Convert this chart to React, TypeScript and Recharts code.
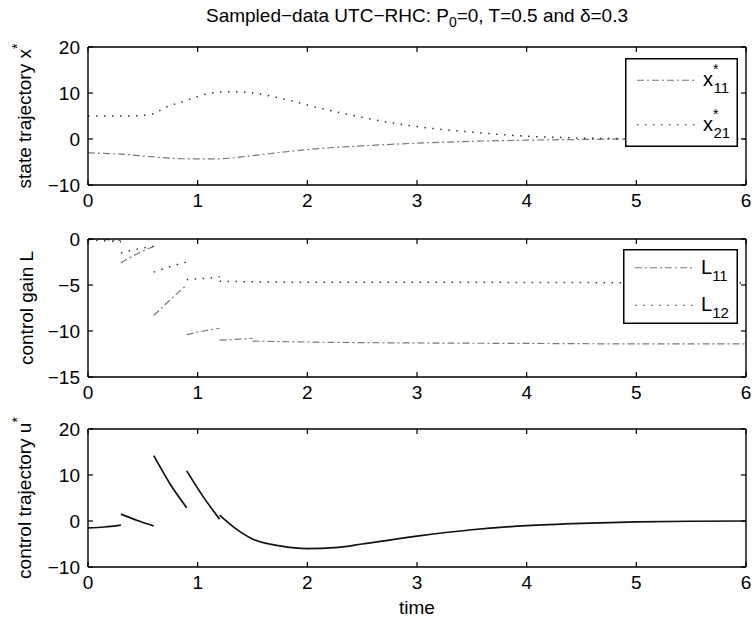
import { LineChart, Line, XAxis, YAxis, Legend } from "recharts";

const FONT = "'Liberation Sans', Arial, Helvetica, sans-serif";
const GRAY = "#7a7a7a";
const DARK = "#333";
const DASHDOT = "7 3 2 3";
const DOTS = "1.5 6.5";

const xTicks = [0, 1, 2, 3, 4, 5, 6];
const stateTicks = [-10, 0, 10, 20];
const gainTicks = [-15, -10, -5, 0];
const controlTicks = [-10, 0, 10, 20];

// state trajectory (t, value)
const x11 = [
  [0, -3.0], [0.3, -3.3], [0.6, -3.9], [0.9, -4.3], [1.2, -4.3], [1.5, -3.6],
  [1.8, -2.8], [2.1, -2.1], [2.5, -1.5], [3, -0.9], [3.5, -0.5], [4, -0.25],
  [4.5, -0.1], [5, 0], [5.5, 0], [6, 0],
];
const x21 = [
  [0, 5.0], [0.3, 5.0], [0.55, 5.2], [0.72, 7.0], [0.9, 8.4], [1.05, 9.6],
  [1.3, 10.3], [1.5, 10.0], [1.8, 8.6], [2.1, 6.8], [2.4, 5.2], [2.7, 3.8],
  [3.0, 2.7], [3.5, 1.5], [4.0, 0.6], [4.5, 0.2], [5, 0.05], [5.5, 0], [6, 0],
];

// control gain, one piece per sampling interval
const l11Pieces = [
  [[0, 0], [0.15, -0.05], [0.3, -0.2]],
  [[0.3, -2.6], [0.45, -1.6], [0.6, -0.8]],
  [[0.6, -8.3], [0.75, -6.6], [0.9, -5.0]],
  [[0.9, -10.4], [1.05, -10.0], [1.2, -9.7]],
  [[1.2, -11.0], [1.35, -10.9], [1.5, -10.8]],
  [[1.5, -11.1], [2, -11.2], [3, -11.3], [4, -11.35], [5, -11.4], [6, -11.4]],
];
const l12Pieces = [
  [[0, -0.1], [0.3, -0.3]],
  [[0.3, -1.5], [0.45, -1.1], [0.6, -0.8]],
  [[0.6, -3.6], [0.75, -3.0], [0.9, -2.5]],
  [[0.9, -4.4], [1.05, -4.3], [1.2, -4.1]],
  [[1.2, -4.6], [1.5, -4.65], [2, -4.7], [3, -4.7], [4, -4.72], [5, -4.75], [6, -4.75]],
];

// control trajectory
const uPieces = [
  [[0, -1.5], [0.15, -1.3], [0.3, -0.9]],
  [[0.3, 1.5], [0.45, 0.1], [0.6, -1.1]],
  [[0.6, 14.2], [0.75, 8.0], [0.9, 2.9]],
  [[0.9, 10.9], [1.05, 5.3], [1.2, 0.4]],
  [[1.2, 1.3], [1.35, -1.7], [1.5, -3.9], [1.75, -5.4], [2, -6.0], [2.25, -5.8],
   [2.5, -5.0], [3, -3.3], [3.5, -1.9], [4, -1.0], [4.5, -0.5], [5, -0.2], [5.5, -0.05], [6, 0]],
];

const stateLegend = [
  { base: "x", sup: "*", sub: "11", stroke: GRAY, dash: DASHDOT },
  { base: "x", sup: "*", sub: "21", stroke: DARK, dash: DOTS },
];
const gainLegend = [
  { base: "L", sup: "", sub: "11", stroke: GRAY, dash: DASHDOT },
  { base: "L", sup: "", sub: "12", stroke: DARK, dash: DOTS },
];

const pts = (rows: number[][]) => rows.map(([t, v]) => ({ t, v }));
const minus = (v: number) => String(v).replace("-", "\u2212");

const axisLine = { stroke: "#000", strokeWidth: 1.4 };
const tickLine = { stroke: "#000", strokeWidth: 1.2 };
const tickFont = { fontSize: 19, fill: "#000", fontFamily: FONT };
const blank = () => "";

function frame(yTicks: number[], yDomain: number[]) {
  return [
    <XAxis key="xb" xAxisId="b" type="number" dataKey="t" domain={[0, 6]} ticks={xTicks} allowDataOverflow
      height={30} axisLine={axisLine} tickLine={false} tick={tickFont} tickSize={6} tickMargin={3} />,
    <XAxis key="xbm" xAxisId="bm" type="number" dataKey="t" domain={[0, 6]} ticks={xTicks} allowDataOverflow
      mirror axisLine={false} tickLine={tickLine} tickSize={5} tickFormatter={blank} />,
    <XAxis key="xt" xAxisId="t" type="number" dataKey="t" domain={[0, 6]} ticks={xTicks} allowDataOverflow
      orientation="top" mirror axisLine={axisLine} tickLine={tickLine} tickSize={5} tickFormatter={blank} />,
    <YAxis key="yl" yAxisId="l" type="number" domain={yDomain} ticks={yTicks} allowDataOverflow
      width={88} axisLine={axisLine} tickLine={false} tick={tickFont} tickSize={6} tickMargin={2} tickFormatter={minus} />,
    <YAxis key="ylm" yAxisId="lm" type="number" domain={yDomain} ticks={yTicks} allowDataOverflow
      mirror axisLine={false} tickLine={tickLine} tickSize={5} tickFormatter={blank} />,
    <YAxis key="yr" yAxisId="r" type="number" domain={yDomain} ticks={yTicks} allowDataOverflow
      orientation="right" mirror axisLine={axisLine} tickLine={tickLine} tickSize={5} tickFormatter={blank} />,
  ];
}

type LegendItem = { base: string; sup: string; sub: string; stroke: string; dash: string };

function LegendBox({ items, width, height }: { items: LegendItem[]; width: number; height: number }) {
  const rowH = height / items.length;
  return (
    <svg width={width} height={height} style={{ display: "block" }}>
      <rect x={0.75} y={0.75} width={width - 1.5} height={height - 1.5} fill="#fff" stroke="#000" strokeWidth={1.5} />
      {items.map((it, i) => {
        const cy = rowH * (i + 0.5);
        return (
          <g key={i}>
            <line x1={12} x2={70} y1={cy} y2={cy} stroke={it.stroke} strokeWidth={1.2} strokeDasharray={it.dash} />
            <text x={78} y={cy + 6} fontSize={20} fontFamily={FONT} fill="#000">
              {it.base}
              {it.sup ? <tspan dy={-12} fontSize={14}>{it.sup}</tspan> : null}
              <tspan dx={it.sup ? -5 : 0} dy={it.sup ? 19 : 7} fontSize={15}>{it.sub}</tspan>
            </text>
          </g>
        );
      })}
    </svg>
  );
}

function legendAt(items: LegendItem[], left: number, top: number, width: number, height: number) {
  return (
    <Legend layout="vertical" align="center" verticalAlign="middle"
      wrapperStyle={{ left, top, width, height }}
      content={() => <LegendBox items={items} width={width} height={height} />} />
  );
}

const dashLine = (id: string, rows: number[][], stroke: string, dash: string, w = 1.2) => (
  <Line key={id} xAxisId="b" yAxisId="l" data={pts(rows)} dataKey="v" type="monotone" stroke={stroke}
    strokeWidth={w} strokeDasharray={dash} dot={false} activeDot={false} isAnimationActive={false} />
);

export default function App() {
  return (
    <div style={{ position: "absolute", left: 0, top: 0, width: 754, height: 620, background: "#fff", overflow: "hidden" }}>
      <div style={{ position: "absolute", left: 0, top: 0 }}>
        <LineChart width={754} height={215} margin={{ top: 47, right: 8, bottom: 0, left: 0 }}>
          {frame(stateTicks, [-10, 20])}
          {dashLine("x11", x11, GRAY, DASHDOT)}
          {dashLine("x21", x21, DARK, DOTS, 1.5)}
          {legendAt(stateLegend, 625, 58, 113, 89)}
        </LineChart>
      </div>
      <div style={{ position: "absolute", left: 0, top: 215 }}>
        <LineChart width={754} height={192} margin={{ top: 24, right: 8, bottom: 0, left: 0 }}>
          {frame(gainTicks, [-15, 0])}
          {l11Pieces.map((p, i) => dashLine("l11-" + i, p, GRAY, DASHDOT))}
          {l12Pieces.map((p, i) => dashLine("l12-" + i, p, DARK, DOTS, 1.5))}
          {legendAt(gainLegend, 623, 34, 115, 75)}
        </LineChart>
      </div>
      <div style={{ position: "absolute", left: 0, top: 407 }}>
        <LineChart width={754} height={190} margin={{ top: 22, right: 8, bottom: 0, left: 0 }}>
          {frame(controlTicks, [-10, 20])}
          {uPieces.map((p, i) => dashLine("u-" + i, p, "#111", "", 1.7))}
        </LineChart>
      </div>
      <svg width={754} height={620} style={{ position: "absolute", left: 0, top: 0, pointerEvents: "none" }}
        fontFamily={FONT} fill="#000">
        <text x={417} y={22} fontSize={19} textAnchor="middle">
          Sampled{"\u2212"}data UTC{"\u2212"}RHC: P<tspan dy={5} fontSize={14}>0</tspan>
          <tspan dy={-5}>=0, T=0.5 and {"\u03b4"}=0.3</tspan>
        </text>
        <text transform="translate(31,116) rotate(-90)" fontSize={19} textAnchor="middle">
          state trajectory x<tspan dy={-9} fontSize={14}>*</tspan>
        </text>
        <text transform="translate(33,308) rotate(-90)" fontSize={19} textAnchor="middle">
          control gain L
        </text>
        <text transform="translate(31,498) rotate(-90)" fontSize={19} textAnchor="middle">
          control trajectory u<tspan dy={-9} fontSize={14}>*</tspan>
        </text>
        <text x={417} y={614} fontSize={19} textAnchor="middle">time</text>
      </svg>
    </div>
  );
}
